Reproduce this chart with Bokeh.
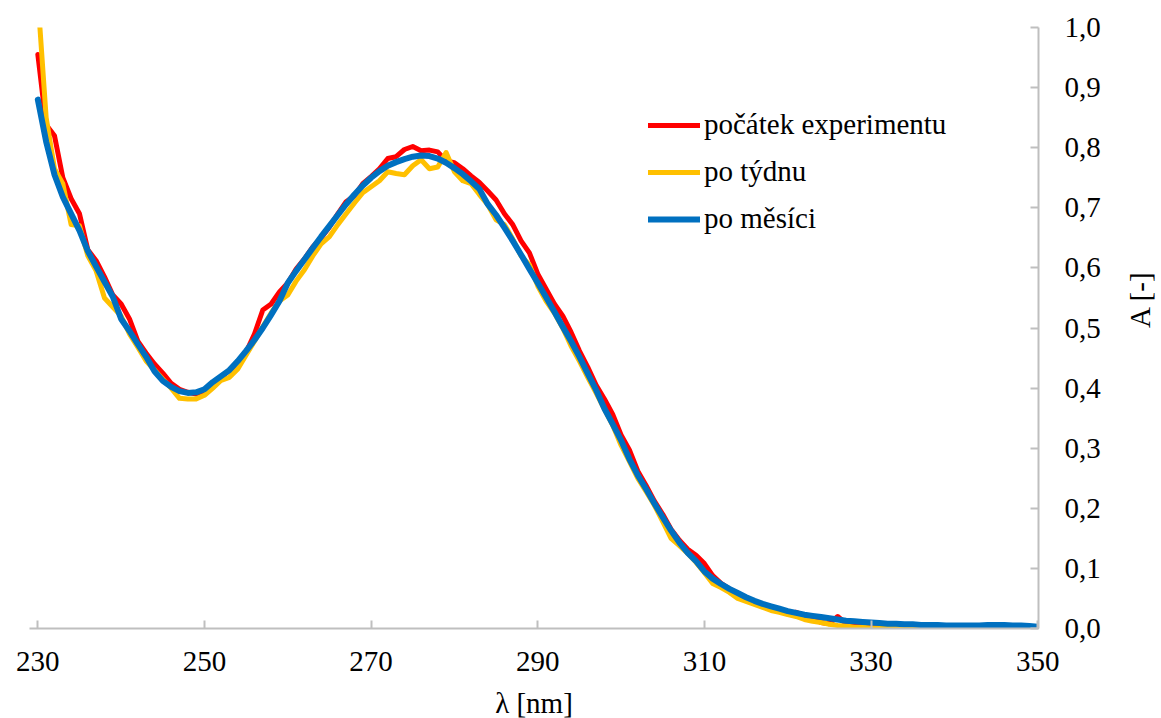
import math
from bokeh.plotting import figure
from bokeh.models import Range1d, FixedTicker, CustomJSTickFormatter, LinearAxis, Legend, LegendItem
from bokeh.embed import file_html
from bokeh.resources import INLINE

wavelength = list(range(230, 351))

red = [0.955, 0.838, 0.820, 0.750, 0.715, 0.690, 0.630, 0.612, 0.585, 0.555,
       0.540, 0.515, 0.478, 0.458, 0.440, 0.425, 0.408, 0.398, 0.393, 0.390,
       0.395, 0.405, 0.418, 0.430, 0.440, 0.460, 0.490, 0.530, 0.540, 0.560,
       0.575, 0.598, 0.615, 0.635, 0.650, 0.668, 0.690, 0.710, 0.720, 0.740,
       0.752, 0.765, 0.782, 0.785, 0.797, 0.802, 0.795, 0.796, 0.793, 0.778,
       0.775, 0.765, 0.753, 0.742, 0.728, 0.713, 0.690, 0.672, 0.645, 0.625,
       0.590, 0.565, 0.540, 0.520, 0.493, 0.462, 0.435, 0.405, 0.382, 0.356,
       0.322, 0.297, 0.262, 0.238, 0.212, 0.190, 0.165, 0.147, 0.132, 0.122,
       0.108, 0.088, 0.075, 0.066, 0.058, 0.050, 0.044, 0.040, 0.035, 0.031,
       0.025, 0.027, 0.022, 0.018, 0.010, 0.008, 0.020, 0.008, 0.005, 0.004,
       0.003, 0.002, 0.003, 0.003, 0.002, 0.003, 0.003, 0.002, 0.002, 0.003,
       0.002, 0.003, 0.003, 0.002, 0.003, 0.003, 0.002, 0.000, 0.002, 0.002,
       0.002]

yellow = [1.050, 0.850, 0.765, 0.740, 0.672, 0.670, 0.620, 0.595, 0.550, 0.535,
          0.520, 0.490, 0.468, 0.445, 0.430, 0.415, 0.400, 0.383, 0.382, 0.382,
          0.388, 0.400, 0.413, 0.418, 0.432, 0.455, 0.478, 0.502, 0.525, 0.545,
          0.555, 0.578, 0.597, 0.620, 0.640, 0.652, 0.672, 0.690, 0.708, 0.725,
          0.735, 0.745, 0.760, 0.757, 0.755, 0.770, 0.780, 0.765, 0.768, 0.792,
          0.760, 0.745, 0.740, 0.722, 0.705, 0.680, 0.672, 0.648, 0.620, 0.605,
          0.570, 0.545, 0.525, 0.500, 0.470, 0.445, 0.418, 0.392, 0.365, 0.338,
          0.305, 0.278, 0.250, 0.228, 0.205, 0.178, 0.150, 0.138, 0.125, 0.110,
          0.093, 0.075, 0.068, 0.060, 0.050, 0.045, 0.040, 0.035, 0.030, 0.027,
          0.023, 0.020, 0.015, 0.012, 0.010, 0.007, 0.005, 0.004, 0.002, 0.002,
          0.001, 0.001, 0.002, 0.001, 0.002, 0.002, 0.001, 0.002, 0.002, 0.001,
          0.002, 0.002, 0.001, 0.002, 0.002, 0.002, 0.001, 0.002, 0.002, 0.001,
          0.001]

blue = [0.880, 0.810, 0.755, 0.718, 0.690, 0.662, 0.628, 0.602, 0.577, 0.552,
        0.515, 0.495, 0.473, 0.452, 0.428, 0.412, 0.402, 0.395, 0.392, 0.393,
        0.398, 0.410, 0.420, 0.430, 0.445, 0.462, 0.480, 0.500, 0.522, 0.545,
        0.575, 0.595, 0.614, 0.633, 0.652, 0.670, 0.688, 0.706, 0.722, 0.737,
        0.750, 0.761, 0.770, 0.776, 0.781, 0.785, 0.787, 0.786, 0.782, 0.775,
        0.766, 0.756, 0.744, 0.731, 0.706, 0.688, 0.667, 0.645, 0.622, 0.598,
        0.575, 0.551, 0.527, 0.502, 0.478, 0.452, 0.424, 0.397, 0.366, 0.340,
        0.313, 0.282, 0.255, 0.232, 0.208, 0.185, 0.163, 0.143, 0.126, 0.112,
        0.095, 0.083, 0.074, 0.066, 0.059, 0.052, 0.046, 0.041, 0.037, 0.033,
        0.029, 0.026, 0.023, 0.021, 0.019, 0.017, 0.015, 0.013, 0.012, 0.011,
        0.010, 0.009, 0.008, 0.008, 0.007, 0.007, 0.006, 0.006, 0.006, 0.005,
        0.005, 0.005, 0.005, 0.005, 0.006, 0.006, 0.006, 0.005, 0.005, 0.004,
        0.003]

series_names = ["počátek experimentu", "po týdnu", "po měsíci"]
series_colors = ["#FF0000", "#FFC000", "#0070C0"]

x_ticks = [230, 250, 270, 290, 310, 330, 350]
y_ticks = [0.0, 0.1, 0.2, 0.3, 0.4, 0.5, 0.6, 0.7, 0.8, 0.9, 1.0]

FONT = "Liberation Serif"
FS = "29px"
AXIS_GRAY = "#BFBFBF"

p = figure(frame_width=1009, frame_height=601, output_backend="svg",
           toolbar_location=None, x_axis_location=None, y_axis_location=None,
           x_range=Range1d(229, 350.1), y_range=Range1d(0, 1.0),
           min_border_left=29, min_border_top=27, min_border_right=120,
           min_border_bottom=88)
p.outline_line_color = None
p.xgrid.visible = False
p.ygrid.visible = False
p.background_fill_color = "white"

xaxis = LinearAxis(ticker=FixedTicker(ticks=x_ticks), axis_label="λ [nm]")
yaxis = LinearAxis(ticker=FixedTicker(ticks=y_ticks), axis_label="A [-]",
                   formatter=CustomJSTickFormatter(code="return tick.toFixed(1).replace('.', ',');"))
for ax in (xaxis, yaxis):
    ax.axis_line_color = AXIS_GRAY
    ax.axis_line_width = 2
    ax.major_tick_line_color = AXIS_GRAY
    ax.major_tick_line_width = 2
    ax.major_tick_in = 8
    ax.major_tick_out = 0
    ax.minor_tick_line_color = None
    ax.major_label_text_font = FONT
    ax.major_label_text_font_size = FS
    ax.major_label_text_color = "black"
    ax.axis_label_text_font = FONT
    ax.axis_label_text_font_size = FS
    ax.axis_label_text_font_style = "normal"
    ax.axis_label_text_color = "black"
xaxis.major_label_standoff = 23
xaxis.axis_label_standoff = 13
yaxis.major_label_standoff = 26
yaxis.axis_label_standoff = 36
if "axis_label_orientation" in yaxis.properties():
    yaxis.axis_label_orientation = math.pi / 2
p.add_layout(xaxis, "below")
p.add_layout(yaxis, "right")

renderers = []
for vals, col, w in zip([red, yellow, blue], series_colors, [5, 5, 6]):
    r = p.line(wavelength, vals, line_color=col, line_width=w, line_join="round", line_cap="round")
    renderers.append(r)

legend = Legend(items=[LegendItem(label=n, renderers=[r]) for n, r in zip(series_names, renderers)],
                location=(619, 393), orientation="vertical")
legend.border_line_color = None
legend.background_fill_alpha = 0
legend.label_text_font = FONT
legend.label_text_font_size = FS
legend.label_text_color = "black"
legend.glyph_width = 52
legend.glyph_height = 28
legend.label_height = 28
legend.label_standoff = 4
legend.spacing = 14
legend.padding = 0
legend.margin = 0
p.add_layout(legend)

open("out.html", "w").write(file_html(p, INLINE))
